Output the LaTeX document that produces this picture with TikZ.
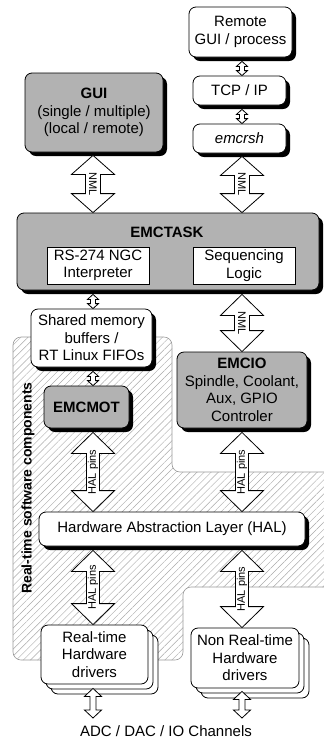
\documentclass[tikz,border=0pt]{standalone}
\usepackage{fontspec}
\setmainfont{Liberation Sans}
\usetikzlibrary{shadows,patterns.meta,calc}
\definecolor{boxgray}{RGB}{178,178,178}
\definecolor{hatchgray}{RGB}{170,170,170}
\tikzset{
  base/.style={draw=black, line width=0.8pt, align=center, inner sep=0pt,
    font=\fontsize{15}{17.5}\selectfont},
  sz/.style 2 args={minimum width=#1pt, minimum height=#2pt},
  rbox/.style={base, rectangle, rounded corners=7pt, fill=white},
  gbox/.style={rbox, fill=boxgray},
  shad/.style={drop shadow={shadow xshift=4pt, shadow yshift=-4pt, opacity=1, fill=black}},
  sqbox/.style={base, rectangle, fill=white},
  arr/.style={draw=black, line width=0.8pt, fill=white, line join=miter},
  lbl/.style={font=\fontsize{11}{12}\selectfont, inner sep=0pt},
}
% double-headed block arrow: #1 top point, #2 bottom point, #3 head half width,
% #4 shaft half width, #5 head length
\newcommand\dblarrow[5]{%
  \draw[arr] let \p1=#1, \p2=#2 in
    (\x1,\y1) -- (\x1+#3pt,\y1-#5pt) -- (\x1+#4pt,\y1-#5pt) -- (\x1+#4pt,\y2+#5pt)
    -- (\x1+#3pt,\y2+#5pt) -- (\x1,\y2) -- (\x1-#3pt,\y2+#5pt) -- (\x1-#4pt,\y2+#5pt)
    -- (\x1-#4pt,\y1-#5pt) -- (\x1-#3pt,\y1-#5pt) -- cycle;}
% label in the middle of an arrow: #1 top, #2 bottom, #3 node options, #4 text
\newcommand\arrlabel[4]{%
  \path let \p1=#1, \p2=#2 in (\x1,{(\y1+\y2)/2}) node[lbl,#3] {#4};}
\begin{document}
\begin{tikzpicture}[x=1pt,y=-1pt]
\fill[white] (0,0) rectangle (324,740);
\useasboundingbox (0,0) rectangle (324,740);

% real-time region
\path[draw=gray!80, line width=0.6pt, rounded corners=8pt,
  pattern={Lines[angle=45,distance=5pt,line width=0.45pt]}, pattern color=hatchgray]
  (13,337) -- (172,337) -- (172,472) -- (340,472) -- (340,587) -- (183,587)
  -- (183,660) -- (13,660) -- cycle;
\node[rotate=90, inner sep=0pt, font=\bfseries\fontsize{14}{16}\selectfont] (rtlabel)
  at (28,488) {Real-time software components};

\coordinate (colL) at (93,0);
\coordinate (colR) at (242,0);
\coordinate (ioL) at (93,718);
\coordinate (ioR) at (242,718);

% boxes
\node[rbox, shad, sz={103}{50}] (remote) at (240.5,32) {Remote\\GUI / process};
\node[rbox, shad, sz={93}{29}] (tcp) at (239.5,90.5) {TCP / IP};
\node[rbox, shad, sz={93}{29}] (emcrsh) at (239.5,138.5) {\itshape emcrsh};
\node[gbox, shad, sz={138}{79}] (gui) at (94,112.5)
  {\textbf{GUI}\\(single / multiple)\\(local / remote)};
\node[gbox, shad, sz={302}{77}] (task) at (168,251.5) {};
\node[inner sep=0pt, font=\bfseries\fontsize{15}{17.5}\selectfont] (tasktitle)
  at (167,232) {EMCTASK};
\node[sqbox, sz={102}{37}] (rs274) at (98,265.5) {RS-274 NGC\\Interpreter};
\node[sqbox, sz={102}{37}] (seq) at (244,265.5) {Sequencing\\Logic};
\node[rbox, shad, sz={121}{58}] (shm) at (91.5,338)
  {Shared memory\\buffers /\\RT Linux FIFOs};
\node[gbox, shad, sz={130}{76}] (emcio) at (242,390)
  {\textbf{EMCIO}\\Spindle, Coolant,\\Aux, GPIO\\Controler};
\node[gbox, shad, sz={85}{42}] (emcmot) at (86.5,407) {\textbf{EMCMOT}};
\node[rbox, shad, sz={266}{34}] (hal) at (172,529) {Hardware Abstraction Layer (HAL)};

% drivers (stacked)
\node[rbox, sz={107}{59}] (rtc2) at (104.5,664.5) {};
\node[rbox, sz={107}{59}] (rtc1) at (99.5,659.5) {};
\node[rbox, sz={107}{59}] (rt) at (94.5,654.5) {Real-time\\Hardware\\drivers};
\node[rbox, sz={108}{60}] (nrtc2) at (255,668) {};
\node[rbox, sz={108}{60}] (nrtc1) at (250,663) {};
\node[rbox, sz={108}{60}] (nrt) at (245,658) {Non Real-time\\Hardware\\drivers};

\node[inner sep=0pt, font=\fontsize{15}{17.5}\selectfont] (adc) at (166,731)
  {ADC / DAC / IO Channels};

% small arrows
\dblarrow{($(remote.south -| colR)+(0,4)$)}{(tcp.north -| colR)}{5.5}{2.5}{5}
\dblarrow{($(tcp.south -| colR)+(0,4)$)}{(emcrsh.north -| colR)}{5.5}{2.5}{5}
\dblarrow{($(task.south -| colL)+(0,4)$)}{(shm.north -| colL)}{5.5}{2.5}{5}
\dblarrow{($(shm.south -| colL)+(0,4)$)}{(emcmot.north -| colL)}{5.5}{2.5}{5}

% NML arrows
\dblarrow{($(gui.south -| colL)+(0,3)$)}{(task.north -| colL)}{21.5}{7.5}{19}
\arrlabel{($(gui.south -| colL)+(0,3)$)}{(task.north -| colL)}{rotate=-90,name=nml1}{NML}
\dblarrow{($(emcrsh.south -| colR)+(0,3)$)}{(task.north -| colR)}{21.5}{7.5}{19}
\arrlabel{($(emcrsh.south -| colR)+(0,3)$)}{(task.north -| colR)}{rotate=-90,name=nml2}{NML}
\dblarrow{($(task.south -| colR)+(0,4)$)}{(emcio.north -| colR)}{21.5}{7.5}{21}
\arrlabel{($(task.south -| colR)+(0,4)$)}{(emcio.north -| colR)}{rotate=-90,name=nml3}{NML}

% HAL pins arrows
\dblarrow{($(emcmot.south -| colL)+(0,4)$)}{(hal.north -| colL)}{21.5}{6.5}{21}
\arrlabel{($(emcmot.south -| colL)+(0,4)$)}{(hal.north -| colL)}{rotate=90,name=hp1}{HAL pins}
\dblarrow{($(emcio.south -| colR)+(0,4)$)}{(hal.north -| colR)}{21.5}{6.5}{21}
\arrlabel{($(emcio.south -| colR)+(0,4)$)}{(hal.north -| colR)}{rotate=90,name=hp2}{HAL pins}
\dblarrow{($(hal.south -| colL)+(0,4)$)}{(rt.north -| colL)}{21.5}{6.5}{21}
\arrlabel{($(hal.south -| colL)+(0,4)$)}{(rt.north -| colL)}{rotate=90,name=hp3}{HAL pins}
\dblarrow{($(hal.south -| colR)+(0,4)$)}{(nrt.north -| colR)}{21.5}{6.5}{21}
\arrlabel{($(hal.south -| colR)+(0,4)$)}{(nrt.north -| colR)}{rotate=90,name=hp4}{HAL pins}

% I/O arrows
\dblarrow{($(rt.south -| colL)+(0,4)$)}{(ioL)}{8.5}{3}{8}
\dblarrow{($(nrt.south -| colR)+(0,3)$)}{(ioR)}{8.5}{3}{8}
\end{tikzpicture}
\end{document}
